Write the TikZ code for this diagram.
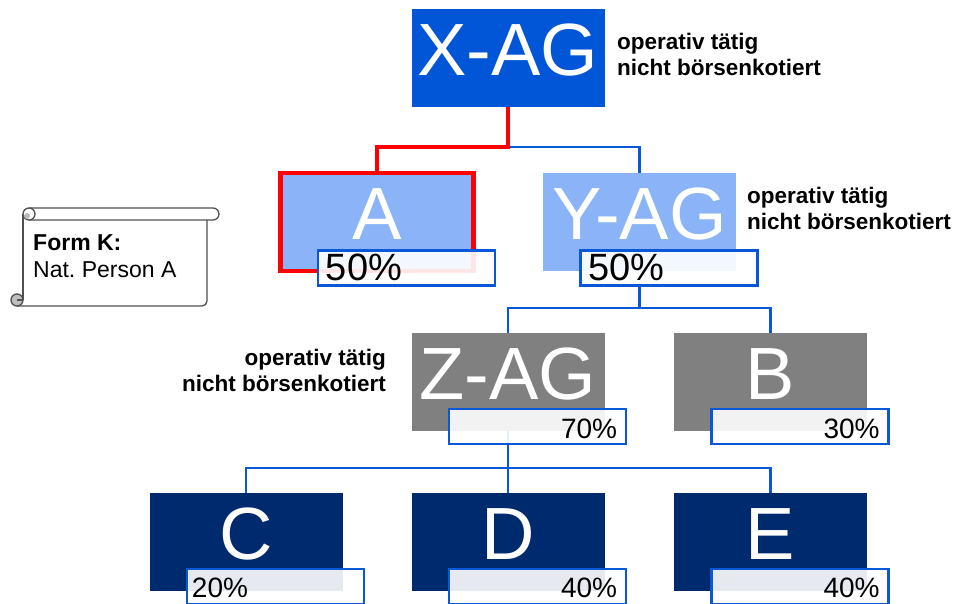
\documentclass[tikz,border=0pt]{standalone}
\usepackage{fontspec}
\setmainfont{Liberation Sans}
\frenchspacing
\definecolor{xblue}{RGB}{0,86,214}
\definecolor{lightblue}{RGB}{138,180,247}
\definecolor{zgray}{RGB}{128,128,128}
\definecolor{navy}{RGB}{0,42,110}
\definecolor{lineblue}{RGB}{8,88,216}
\definecolor{scrollgray}{RGB}{80,80,80}
\begin{document}
\begin{tikzpicture}[x=1bp,y=-1bp,
  box/.style={rectangle, minimum width=193bp, minimum height=98bp, inner sep=0pt,
    text=white, font=\fontsize{74bp}{80bp}\selectfont, text height=53bp, text depth=18bp},
  pct/.style={rectangle, minimum width=177bp, minimum height=35bp, inner sep=0pt,
    draw=lineblue, line width=2.5bp, fill=white, fill opacity=0.9},
  bigpct/.style={font=\fontsize{38bp}{40bp}\selectfont, inner sep=0pt},
  smallpct/.style={font=\fontsize{28bp}{30bp}\selectfont, inner sep=0pt},
  conn/.style={draw=lineblue, line width=2.5bp},
  redconn/.style={draw=red, line width=4.5bp},
  lab/.style={font=\bfseries\fontsize{22.5bp}{26bp}\selectfont, inner sep=0pt},
  scrolltext/.style={font=\fontsize{23bp}{27bp}\selectfont, inner sep=0pt, anchor=base west},
  scrollline/.style={draw=scrollgray, line width=1.3bp},
]
\useasboundingbox (0,0) rectangle (954,604);

% scroll
\fill[white, rounded corners=5bp] (23,214) -- (23,306) -- (207,306) -- (207,214) -- cycle;
\draw[scrollline] (23,214) -- (23,300);
\draw[scrollline, rounded corners=5bp] (17,306) -- (207,306) -- (207,220);
\draw[scrollline, fill=white, rounded corners=6bp] (29,208) -- (219,208) -- (219,220) -- (29,220);
\draw[scrollline, fill=white] (29,214) circle (6bp);
\fill[gray!55] (27,216) circle (3bp);
\draw[scrollline, fill=gray!50] (17,300) circle (6bp);
\draw[scrollline] (17,300) -- (23,300);
\node[scrolltext, font=\bfseries\fontsize{23bp}{27bp}\selectfont] (fk) at (33,251) {Form K:};
\node[scrolltext] (np) at (33,278) {Nat. Person A};

% main boxes
\node[box, fill=xblue] (X) at (508,58) {X-AG};
\node[box, fill=lightblue, draw=red, line width=4.5bp] (A) at (377,222) {A};
\node[box, fill=lightblue] (Y) at (639.5,222) {Y-AG};
\node[box, fill=zgray] (Z) at (508,382) {Z-AG};
\node[box, fill=zgray] (B) at (770.5,382) {B};
\node[box, fill=navy] (C) at (246,542) {C};
\node[box, fill=navy] (D) at (508,542) {D};
\node[box, fill=navy] (E) at (770.5,542) {E};

% percentage boxes
\node[pct] (pA) at ([shift={(29.5,46)}]A.center) {};
\node[pct] (pY) at ([shift={(29.5,46)}]Y.center) {};

% junctions
\coordinate (j1) at (508,147);
\coordinate (j2) at (639.5,308);
\coordinate (j3) at (508,468);

% connectors
\draw[conn] (j1) -| (Y.north);
\draw[redconn] (X.south) -- (j1) -| (A.north);
\draw[conn] (Y.south |- pY.south) -- (j2);
\draw[conn] (j2) -| (Z.north);
\draw[conn] (j2) -| (B.north);
\draw[conn] (Z.south) -- (j3) -- (D.north);
\draw[conn] (j3) -| (C.north);
\draw[conn] (j3) -| (E.north);

\node[pct] (pZ) at ([shift={(29.5,44.5)}]Z.center) {};
\node[pct] (pB) at ([shift={(29.5,44.5)}]B.center) {};
\node[pct] (pC) at ([shift={(29.5,44.5)}]C.center) {};
\node[pct] (pD) at ([shift={(29.5,44.5)}]D.center) {};
\node[pct] (pE) at ([shift={(29.5,44.5)}]E.center) {};

\node[bigpct, anchor=base west] (tA) at ([xshift=9bp,yshift=6bp]pA.south west) {50\%};
\node[bigpct, anchor=base west] (tY) at ([xshift=9bp,yshift=6bp]pY.south west) {50\%};
\node[smallpct, anchor=base east] (tZ) at ([xshift=-10bp,yshift=7bp]pZ.south east) {70\%};
\node[smallpct, anchor=base east] (tB) at ([xshift=-10bp,yshift=7bp]pB.south east) {30\%};
\node[smallpct, anchor=base west] (tC) at ([xshift=6bp,yshift=8bp]pC.south west) {20\%};
\node[smallpct, anchor=base east] (tD) at ([xshift=-10bp,yshift=8bp]pD.south east) {40\%};
\node[smallpct, anchor=base east] (tE) at ([xshift=-10bp,yshift=8bp]pE.south east) {40\%};

% labels
\node[lab, anchor=base west] (lx1) at (617,50) {operativ tätig};
\node[lab, anchor=base west] (lx2) at (617,76) {nicht börsenkotiert};
\node[lab, anchor=base west] (ly1) at (747,204) {operativ tätig};
\node[lab, anchor=base west] (ly2) at (747,230) {nicht börsenkotiert};
\node[lab, anchor=base east] (lz1) at (386,365) {operativ tätig};
\node[lab, anchor=base east] (lz2) at (386,391) {nicht börsenkotiert};
\end{tikzpicture}
\end{document}
